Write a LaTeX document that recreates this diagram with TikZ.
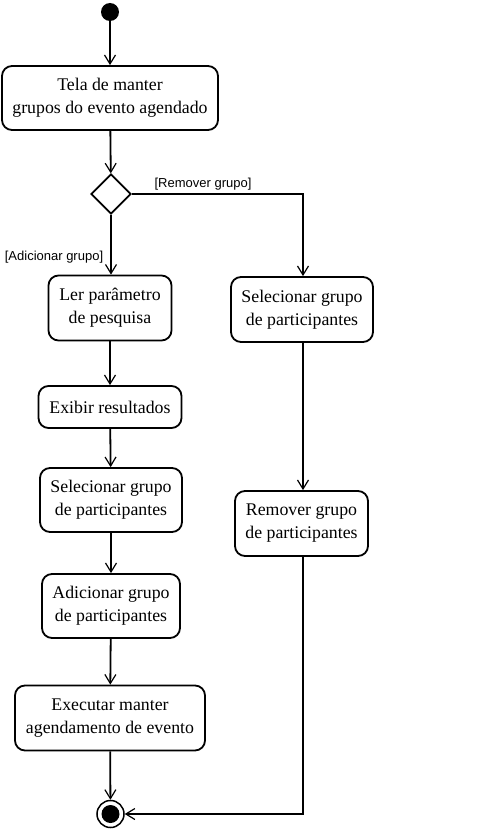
\documentclass[tikz,border=0pt]{standalone}
\usepackage{fontspec}
\setmainfont{Liberation Serif}
\newfontfamily\labelfont{Liberation Sans}
\usetikzlibrary{arrows.meta,shapes.geometric}
\begin{document}
\begin{tikzpicture}[x=1pt,y=-1pt,
  act/.style={draw,line width=1.8pt,rounded corners=10pt,align=center,font=\fontsize{17.8}{23}\selectfont,inner sep=0pt},
  flow/.style={line width=1.8pt,-{Straight Barb[length=9pt,width=11pt,line width=1.2pt]}},
  guard/.style={font=\labelfont\fontsize{13}{15}\selectfont,inner sep=0pt}]
\useasboundingbox[fill=white] (0,0) rectangle (479,832);
\node[circle,fill=black,minimum size=18pt,inner sep=0pt] (start) at (110,12) {};
\node[act,minimum width=216pt,minimum height=64pt] (tela) at (110,98) {Tela de manter\\grupos do evento agendado};
\node[draw,diamond,line width=1.8pt,minimum width=40pt,minimum height=40pt,inner sep=0pt] (dec) at (111,194) {};
\node[act,minimum width=123pt,minimum height=65pt] (ler) at (110,308) {Ler parâmetro\\de pesquisa};
\node[act,minimum width=142pt,minimum height=65pt] (selr) at (302,309.5) {Selecionar grupo\\de participantes};
\node[act,minimum width=143pt,minimum height=42pt] (exib) at (110,407) {Exibir resultados};
\node[act,minimum width=142pt,minimum height=64pt] (sell) at (111,500) {Selecionar grupo\\de participantes};
\node[act,minimum width=138pt,minimum height=64pt] (adic) at (111,606) {Adicionar grupo\\de participantes};
\node[act,minimum width=190pt,minimum height=65pt] (exec) at (110,718) {Executar manter\\agendamento de evento};
\node[act,minimum width=133pt,minimum height=65pt] (remo) at (301.5,523.5) {Remover grupo\\de participantes};
\node[circle,draw,line width=1.5pt,minimum size=27pt,inner sep=0pt] (end) at (110.5,814) {};
\node[circle,fill=black,minimum size=18pt,inner sep=0pt] at (end) {};
\coordinate (c1) at (303,194);
\coordinate (c2) at (303,814);
\draw[flow] (start) -- (start |- tela.north);
\draw[flow] (tela) -- (dec);
\draw[flow] (dec.south) -- (ler.north -| dec.south);
\draw[flow] (dec.east) -- (c1) -- (c1 |- selr.north);
\draw[flow] (ler) -- (exib);
\draw[flow] (exib) -- (sell);
\draw[flow] (sell) -- (adic);
\draw[flow] (adic) -- (exec);
\draw[flow] (exec) -- (end);
\draw[flow] (selr.south -| c1) -- (remo.north -| c1);
\draw[flow] (remo.south -| c1) -- (c2) -- (end.east);
\node[guard] (g1) at (203,184) {[Remover grupo]};
\node[guard] (g2) at (54,257) {[Adicionar grupo]};
\end{tikzpicture}
\end{document}
